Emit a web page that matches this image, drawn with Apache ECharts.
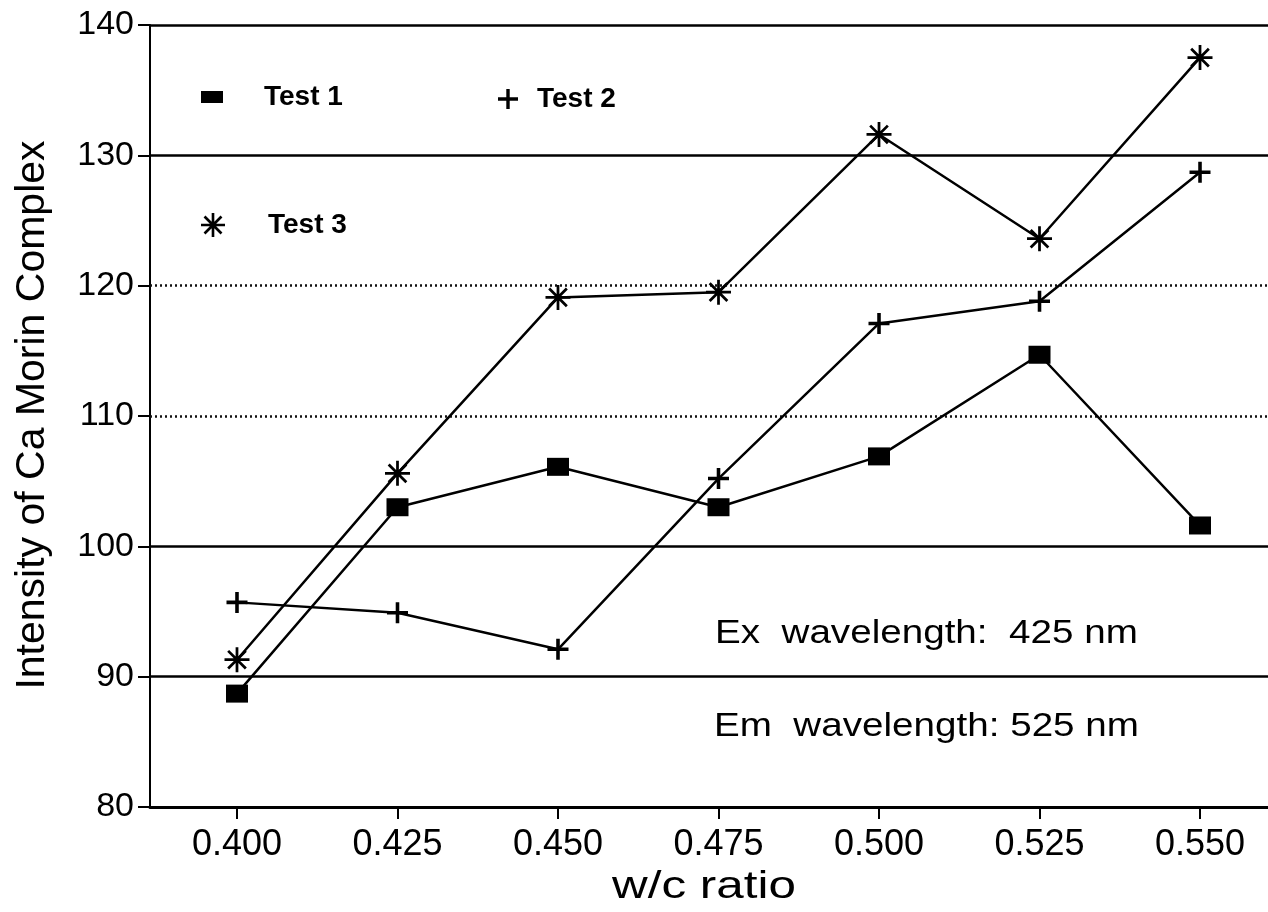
<!DOCTYPE html>
<html>
<head>
<meta charset="utf-8">
<title>Intensity of Ca Morin Complex vs w/c ratio</title>
<script src="https://cdn.jsdelivr.net/npm/echarts@6/dist/echarts.min.js"></script>
<style>
  html, body { margin: 0; padding: 0; background: #fff; }
  #chart { width: 1268px; height: 912px; }
</style>
</head>
<body>
<div id="chart"></div>
<script>
// w/c ratios on the x axis
const wcRatios = [0.400, 0.425, 0.450, 0.475, 0.500, 0.525, 0.550];

// Fluorescence intensity for each test run
const test1 = [88.7, 103.0, 106.1, 103.0, 106.9, 114.7, 101.6];
const test2 = [95.7, 94.9, 92.1, 105.2, 117.1, 118.8, 128.7];
const test3 = [91.3, 105.6, 119.1, 119.5, 131.6, 123.6, 137.5];

// Horizontal reference lines
const solidGridValues = [90, 100, 130, 140];
const dottedGridValues = [110, 120];

const seriesNames = ['Test 1', 'Test 2', 'Test 3'];
const noteLines = ['Ex  wavelength:  425 nm', 'Em  wavelength: 525 nm'];

const FONT = "'Liberation Sans', Arial, Helvetica, sans-serif";

// Marker shapes
const plusPath = 'path://M-1.7,-10L1.7,-10L1.7,-1.7L10,-1.7L10,1.7L1.7,1.7L1.7,10L-1.7,10L-1.7,1.7L-10,1.7L-10,-1.7L-1.7,-1.7Z';

function starPath(angles, r, w) {
  let d = '';
  angles.forEach(function (deg) {
    const a = deg * Math.PI / 180;
    const dx = Math.cos(a), dy = Math.sin(a);
    const nx = -dy * w / 2, ny = dx * w / 2;
    const pts = [
      [-r * dx + nx, -r * dy + ny],
      [r * dx + nx, r * dy + ny],
      [r * dx - nx, r * dy - ny],
      [-r * dx - nx, -r * dy - ny]
    ];
    d += 'M' + pts.map(function (p) { return p[0].toFixed(2) + ',' + p[1].toFixed(2); }).join('L') + 'Z';
  });
  return 'path://' + d;
}
const asteriskPath = starPath([0, 45, 90, 135], 10, 2.2);

const toPairs = function (vals) {
  return wcRatios.map(function (x, i) { return [x, vals[i]]; });
};

const chart = echarts.init(document.getElementById('chart'), null, { renderer: 'canvas' });

const lineBase = {
  type: 'line',
  showSymbol: true,
  lineStyle: { color: '#000', width: 2.5 },
  itemStyle: { color: '#000' },
  emphasis: { disabled: true },
  z: 5
};

const legendText = { fontFamily: FONT, fontWeight: 'bold', fontSize: 28, color: '#000' };

const option = {
  backgroundColor: '#fff',
  animation: false,
  grid: { left: 150, right: 0, top: 25, bottom: 105, containLabel: false },
  legend: [
    { data: [{ name: 'Test 1', icon: 'rect' }], left: 196, top: 78, itemWidth: 22, itemHeight: 12,
      textStyle: Object.assign({ padding: [0, 0, 0, 36] }, legendText), selectedMode: false },
    { data: [{ name: 'Test 2', icon: plusPath }], left: 493, top: 80, itemWidth: 20, itemHeight: 20,
      textStyle: Object.assign({ padding: [0, 0, 0, 14] }, legendText), selectedMode: false },
    { data: [{ name: 'Test 3', icon: asteriskPath }], left: 196, top: 206, itemWidth: 24, itemHeight: 24,
      textStyle: Object.assign({ padding: [0, 0, 0, 38] }, legendText), selectedMode: false }
  ],
  xAxis: {
    type: 'value',
    min: 0.38645,
    max: 0.56059,
    axisLine: { show: true, lineStyle: { color: '#000', width: 3 } },
    axisTick: { show: true, customValues: wcRatios, length: 12, lineStyle: { color: '#000', width: 2 } },
    axisLabel: {
      customValues: wcRatios,
      formatter: function (v) { return v.toFixed(3); },
      margin: 20, fontSize: 36, color: '#000', fontFamily: FONT
    },
    splitLine: { show: false }
  },
  yAxis: {
    type: 'value',
    min: 80, max: 140, interval: 10,
    axisLine: { show: true, lineStyle: { color: '#000', width: 2 } },
    axisTick: { show: true, length: 12, lineStyle: { color: '#000', width: 2 } },
    axisLabel: { margin: 16, fontSize: 34, color: '#000', fontFamily: FONT },
    splitLine: { show: false }
  },
  series: [
    {
      name: 'grid-lines',
      type: 'line',
      data: [],
      silent: true,
      markLine: {
        silent: true,
        symbol: ['none', 'none'],
        label: { show: false },
        animation: false,
        data: solidGridValues.map(function (v) {
          return { yAxis: v, lineStyle: { type: 'solid', color: '#000', width: 2.5 } };
        }).concat(dottedGridValues.map(function (v) {
          return { yAxis: v, lineStyle: { type: [2, 3], color: '#111', width: 2.5 } };
        }))
      },
      z: 1
    },
    Object.assign({}, lineBase, { name: seriesNames[0], data: toPairs(test1), symbol: 'rect', symbolSize: [22, 18] }),
    Object.assign({}, lineBase, { name: seriesNames[1], data: toPairs(test2), symbol: plusPath, symbolSize: 21 }),
    Object.assign({}, lineBase, { name: seriesNames[2], data: toPairs(test3), symbol: asteriskPath, symbolSize: 25 })
  ],
  graphic: [
    {
      type: 'text', x: 33, y: 415, rotation: Math.PI / 2,
      style: { text: 'Intensity of Ca Morin Complex', fontSize: 41, fontFamily: FONT, fill: '#000',
               align: 'center', verticalAlign: 'middle' }
    },
    {
      type: 'text', x: 704, y: 888, scaleX: 1.3,
      style: { text: 'w/c ratio', fontSize: 38, fontFamily: FONT, fill: '#000',
               align: 'center', verticalAlign: 'middle' }
    },
    {
      type: 'text', x: 715, y: 634, scaleX: 1.17,
      style: { text: noteLines[0], fontSize: 33, fontFamily: FONT, fill: '#000',
               align: 'left', verticalAlign: 'middle' }
    },
    {
      type: 'text', x: 714, y: 727, scaleX: 1.17,
      style: { text: noteLines[1], fontSize: 33, fontFamily: FONT, fill: '#000',
               align: 'left', verticalAlign: 'middle' }
    }
  ]
};

chart.setOption(option);
</script>
</body>
</html>
